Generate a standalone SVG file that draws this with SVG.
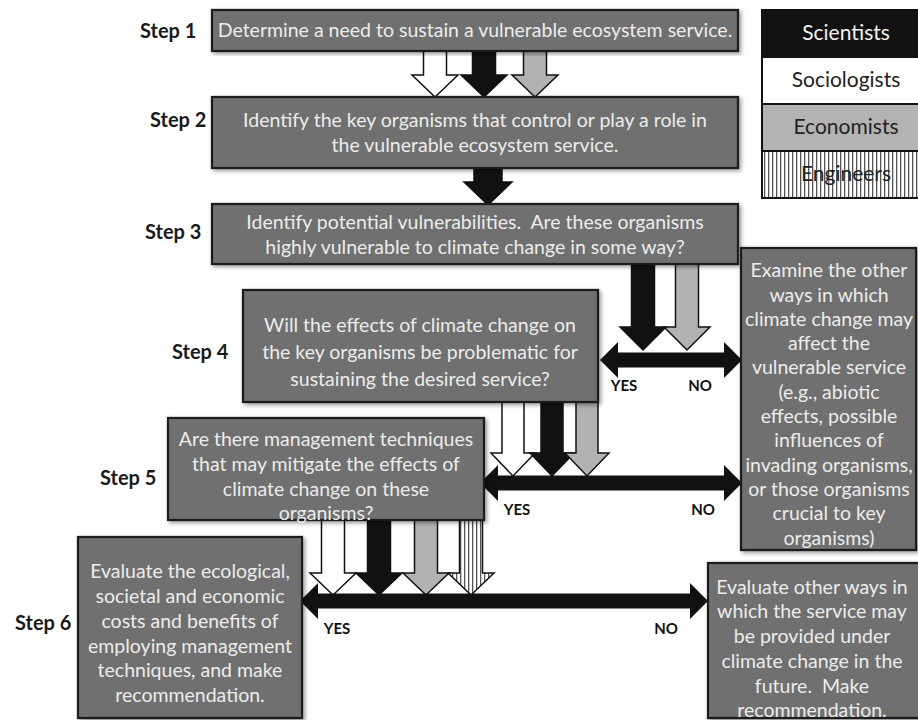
<svg xmlns="http://www.w3.org/2000/svg" width="918" height="720" viewBox="0 0 918 720">
<defs>
<pattern id="stripes" width="4" height="4" patternUnits="userSpaceOnUse">
<rect width="4" height="4" fill="#ffffff"/>
<rect x="0" y="0" width="1.3" height="4" fill="#555555"/>
</pattern>
<filter id="sh" x="-5%" y="-5%" width="110%" height="115%">
<feDropShadow dx="2" dy="2" stdDeviation="2" flood-color="#000" flood-opacity="0.4"/>
</filter>
</defs>
<style>
.box{fill:#6f6f6f;stroke:#1c1c1c;stroke-width:2.2;filter:url(#sh)}
.bt{font-family:Lato,"Open Sans","Liberation Sans",sans-serif;font-size:19.5px;fill:#ececec;text-anchor:middle}
.step{font-family:Lato,"Open Sans","Liberation Sans",sans-serif;font-size:20px;font-weight:bold;fill:#1a1a1a}
.yn{font-family:Lato,"Open Sans","Liberation Sans",sans-serif;font-size:15px;font-weight:bold;fill:#111;text-anchor:middle}
.lg{font-family:Lato,"Open Sans","Liberation Sans",sans-serif;font-size:21px;text-anchor:middle}
.aw{fill:#ffffff;stroke:#111;stroke-width:1.5;stroke-linejoin:miter}
.ab{fill:#111111;stroke:#111;stroke-width:1.5}
.ag{fill:#b2b2b2;stroke:#111;stroke-width:1.5}
.as{fill:url(#stripes);stroke:#111;stroke-width:1.5}
.dbl{fill:#111111}
</style>

<g id="connectors">
<!-- Step1 -> Step2 -->
<path class="aw" d="M423.5,51 L446.5,51 L446.5,75 L458,75 L435,97 L412,75 L423.5,75 Z"/>
<path class="ab" d="M472.5,51 L495.5,51 L495.5,75 L507,75 L484,97 L461,75 L472.5,75 Z"/>
<path class="ag" d="M523.5,51 L546.5,51 L546.5,75 L558,75 L535,97 L512,75 L523.5,75 Z"/>
<!-- Step2 -> Step3 -->
<path class="ab" d="M474,168 L502,168 L502,182 L512,182 L488,205 L464,182 L474,182 Z"/>
<!-- Step3 -> Step4 -->
<path class="ab" d="M631.5,264 L654.5,264 L654.5,327 L666,327 L643,350 L620,327 L631.5,327 Z"/>
<path class="ag" d="M675.5,264 L698.5,264 L698.5,327 L710,327 L687,350 L664,327 L675.5,327 Z"/>
<path class="dbl" d="M600,360 L618,342 L618,352.5 L724,352.5 L724,342 L742,360 L724,378 L724,367.5 L618,367.5 L618,378 Z"/>
<!-- Step4 -> Step5 -->
<path class="aw" d="M502,402 L524,402 L524,453 L535,453 L513,476 L491,453 L502,453 Z"/>
<path class="ab" d="M541,402 L563,402 L563,453 L574,453 L552,476 L530,453 L541,453 Z"/>
<path class="ag" d="M576,402 L598,402 L598,453 L609,453 L587,476 L565,453 L576,453 Z"/>
<path class="dbl" d="M480,483 L498,465 L498,475.5 L724,475.5 L724,465 L742,483 L724,501 L724,490.5 L498,490.5 L498,501 Z"/>
<!-- Step5 -> Step6 -->
<path class="aw" d="M321.5,520 L344.5,520 L344.5,573 L356,573 L333,595 L310,573 L321.5,573 Z"/>
<path class="ab" d="M367.5,520 L390.5,520 L390.5,573 L402,573 L379,595 L356,573 L367.5,573 Z"/>
<path class="ag" d="M414.5,520 L437.5,520 L437.5,573 L449,573 L426,595 L403,573 L414.5,573 Z"/>
<path class="as" d="M459.5,520 L482.5,520 L482.5,573 L494,573 L471,595 L448,573 L459.5,573 Z"/>
<path class="dbl" d="M300,601 L318,583 L318,593.5 L690,593.5 L690,583 L708,601 L690,619 L690,608.5 L318,608.5 L318,619 Z"/>
<text class="yn" x="624" y="391">YES</text>
<text class="yn" x="700" y="391">NO</text>
<text class="yn" x="517" y="515">YES</text>
<text class="yn" x="703" y="515">NO</text>
<text class="yn" x="337" y="634">YES</text>
<text class="yn" x="666" y="634">NO</text>
</g>

<g id="legend">
<rect x="762" y="10" width="160" height="47" fill="#111111" stroke="#111" stroke-width="2"/>
<rect x="762" y="57" width="160" height="47" fill="#ffffff" stroke="#111" stroke-width="2"/>
<rect x="762" y="104" width="160" height="47" fill="#b3b3b3" stroke="#111" stroke-width="2"/>
<rect x="762" y="151" width="160" height="47" fill="url(#stripes)" stroke="#111" stroke-width="2"/>
<text class="lg" x="846" y="40" fill="#f2f2f2">Scientists</text>
<text class="lg" x="846" y="87" fill="#222">Sociologists</text>
<text class="lg" x="846" y="134" fill="#222">Economists</text>
<text class="lg" x="846" y="181" fill="#222">Engineers</text>
</g>

<g id="step1">
<text class="step" x="140" y="38">Step 1</text>
<rect class="box" x="212" y="10" width="526" height="41"/>
<text class="bt" x="475" y="37">Determine a need to sustain a vulnerable ecosystem service.</text>
</g>

<g id="step2">
<text class="step" x="150" y="127">Step 2</text>
<rect class="box" x="212" y="97" width="526" height="71"/>
<text class="bt" x="475" y="127">Identify the key organisms that control or play a role in</text>
<text class="bt" x="475" y="152">the vulnerable ecosystem service.</text>
</g>

<g id="step3">
<text class="step" x="145" y="239">Step 3</text>
<rect class="box" x="212" y="204" width="526" height="60"/>
<text class="bt" x="475" y="229">Identify potential vulnerabilities.&#160; Are these organisms</text>
<text class="bt" x="475" y="254">highly vulnerable to climate change in some way?</text>
</g>

<g id="step4">
<text class="step" x="172" y="359">Step 4</text>
<rect class="box" x="243" y="290" width="355" height="112"/>
<text class="bt" x="420" y="332">Will the effects of climate change on</text>
<text class="bt" x="420" y="359">the key organisms be problematic for</text>
<text class="bt" x="420" y="386">sustaining the desired service?</text>
</g>

<g id="examine">
<rect class="box" x="741" y="248" width="175" height="302"/>
<text class="bt" x="829" y="277">Examine the other</text>
<text class="bt" x="829" y="302">ways in which</text>
<text class="bt" x="829" y="326">climate change may</text>
<text class="bt" x="829" y="350">affect the</text>
<text class="bt" x="829" y="374">vulnerable service</text>
<text class="bt" x="829" y="399">(e.g., abiotic</text>
<text class="bt" x="829" y="423">effects, possible</text>
<text class="bt" x="829" y="447">influences of</text>
<text class="bt" x="829" y="472">invading organisms,</text>
<text class="bt" x="829" y="496">or those organisms</text>
<text class="bt" x="829" y="520">crucial to key</text>
<text class="bt" x="829" y="545">organisms)</text>
</g>

<g id="step5">
<text class="step" x="100" y="485">Step 5</text>
<rect class="box" x="168" y="418" width="316" height="102"/>
<text class="bt" x="326" y="446">Are there management techniques</text>
<text class="bt" x="326" y="471">that may mitigate the effects of</text>
<text class="bt" x="326" y="496">climate change on these</text>
<text class="bt" x="326" y="520">organisms?</text>
</g>

<g id="step6">
<text class="step" x="15" y="630">Step 6</text>
<rect class="box" x="78" y="537" width="224" height="181"/>
<text class="bt" x="190" y="578">Evaluate the ecological,</text>
<text class="bt" x="190" y="603">societal and economic</text>
<text class="bt" x="190" y="628">costs and benefits of</text>
<text class="bt" x="190" y="653">employing management</text>
<text class="bt" x="190" y="677">techniques, and make</text>
<text class="bt" x="190" y="702">recommendation.</text>
</g>

<g id="evaluate-other">
<rect class="box" x="708" y="563" width="212" height="155"/>
<text class="bt" x="812" y="594">Evaluate other ways in</text>
<text class="bt" x="812" y="618">which the service may</text>
<text class="bt" x="812" y="643">be provided under</text>
<text class="bt" x="812" y="668">climate change in the</text>
<text class="bt" x="812" y="693">future.&#160; Make</text>
<text class="bt" x="812" y="717">recommendation.</text>
</g>
</svg>
